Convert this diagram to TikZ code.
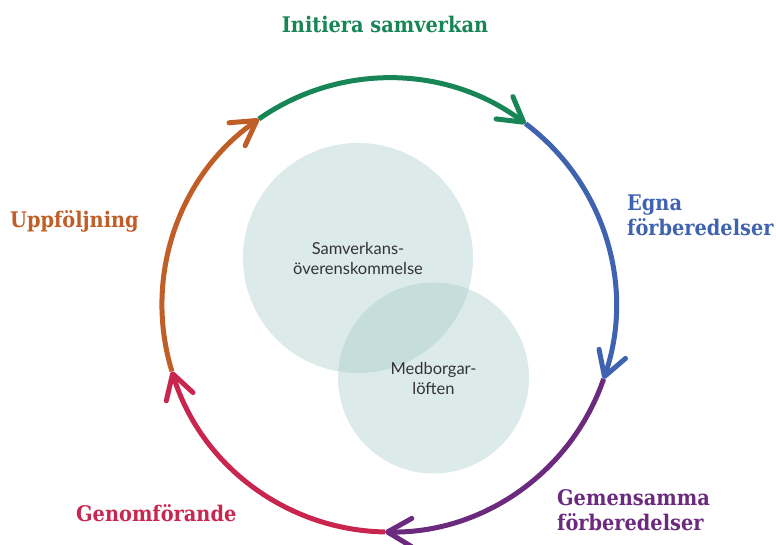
\documentclass[tikz,border=0pt]{standalone}
\usepackage{fontspec}
\setmainfont{Lato}
\newfontfamily\rubrikfont[FakeStretch=0.9]{DejaVu Serif}
\usetikzlibrary{arrows.meta}

\definecolor{gron}{RGB}{23,133,86}
\definecolor{bla}{RGB}{63,99,176}
\definecolor{lila}{RGB}{107,42,126}
\definecolor{rod}{RGB}{200,38,78}
\definecolor{brun}{RGB}{192,94,39}
\definecolor{cirkel}{RGB}{153,194,191}

\tikzset{
    steg/.style={line width=5pt, -{Straight Barb[length=24pt, width=28pt, round]}},
    rubrik/.style={font=\rubrikfont\bfseries\fontsize{21.5}{25}\selectfont, align=left, inner sep=0pt},
    ring/.style={circle, fill=cirkel, fill opacity=0.34, text opacity=1, text=black!80,
        inner sep=0pt, align=center, font=\fontsize{16.5}{20}\selectfont}
}

\begin{document}
\begin{tikzpicture}[x=1pt, y=1pt]
    \useasboundingbox (0, 0) rectangle (776, 545);
    \node[ring, minimum size=230] (avtal) at (358, 287) {Samverkans-\\överenskommelse};
    \node[ring, minimum size=191] (loften) at (433.5, 167) {Medborgar-\\löften};
    \coordinate (m) at (389, 240);
    \foreach \v [count=\i] in {125, 53, -19, -91, -163}
        \coordinate (p\i) at ([shift={(\v:227)}]m);
    \draw[steg, gron] (p1) arc[start angle=125, end angle=53, radius=227];
    \draw[steg, bla] (p2) arc[start angle=53, end angle=-19, radius=227];
    \draw[steg, lila] (p3) arc[start angle=-19, end angle=-91, radius=227];
    \draw[steg, rod] (p4) arc[start angle=-91, end angle=-163, radius=227];
    \draw[steg, brun] (p5) arc[start angle=197, end angle=125, radius=227];
    \node[rubrik, text=gron] (initiera) at (385, 521) {Initiera samverkan};
    \node[rubrik, text=bla, anchor=west] (egna) at (627, 330) {Egna\\förberedelser};
    \node[rubrik, text=lila, anchor=west] (gemensamma) at (557, 35) {Gemensamma\\förberedelser};
    \node[rubrik, text=rod, anchor=west] (genomforande) at (76, 32) {Genomförande};
    \node[rubrik, text=brun, anchor=west] (uppfoljning) at (10, 324) {Uppföljning};
\end{tikzpicture}
\end{document}
